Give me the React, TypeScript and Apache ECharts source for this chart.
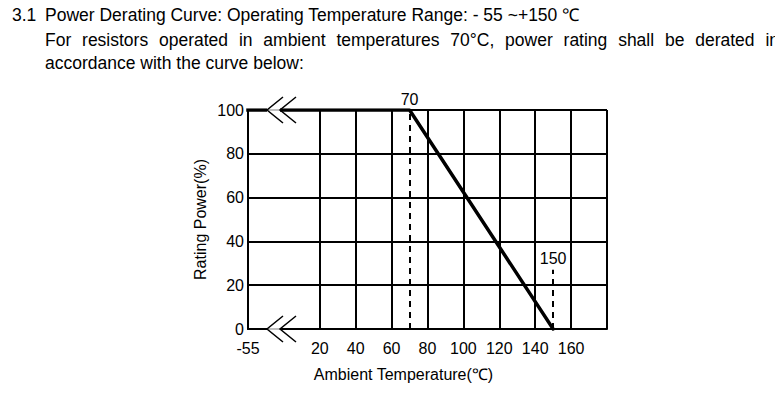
import React, { useEffect, useRef } from "react";
import * as echarts from "echarts";

const FONT = "'Liberation Sans', Arial, Helvetica, sans-serif";

// Curve data (temperature in °C, rated power in %)
const tempC = [-55, 70, 150];
const powerPct = [100, 100, 0];

// Broken x axis: the -55 point is drawn where -20 would be on a linear scale
const BREAK_ACTUAL = -55;
const BREAK_AXIS = -20;
const X_MIN = -20;
const X_MAX = 180;
const X_STEP = 20;
const xTickLabels = [20, 40, 60, 80, 100, 120, 140, 160];
const gridTemps = [20, 40, 60, 80, 100, 120, 140, 160, 180];

const Y_MIN = 0;
const Y_MAX = 100;
const Y_STEP = 20;

// Dashed guide lines
const guideTemps = [70, 150];
const guideTops = [100, 27];
const guideLabels = ["70", "150"];

// Header texts
const titleNum = "3.1";
const titleText = "Power Derating Curve: Operating Temperature Range: - 55 ~+150 ℃";
const line2Words = [
  "For", "resistors", "operated", "in", "ambient", "temperatures", "70°C,",
  "power", "rating", "shall", "be", "derated", "in",
];
const line3Text = "accordance with the curve below:";
const xName = "Ambient Temperature(℃)";
const yName = "Rating Power(%)";

const HEAD_SIZE = 17.5;

const toAxis = (t: number) => (t <= BREAK_ACTUAL ? BREAK_AXIS : t);

function measure(text: string, size: number): number {
  const c = document.createElement("canvas");
  const ctx = c.getContext("2d");
  if (!ctx) return text.length * size * 0.5;
  ctx.font = `${size}px ${FONT}`;
  return ctx.measureText(text).width;
}

export default function App() {
  const ref = useRef<HTMLDivElement>(null);

  useEffect(() => {
    if (!ref.current) return;
    const chart = echarts.init(ref.current, undefined, { renderer: "svg" });

    const gridLines = gridTemps.map((t) => [
      { coord: [t, Y_MIN] },
      { coord: [t, Y_MAX] },
    ]);
    const guideLines = guideTemps.map((t, i) => [
      {
        coord: [t, Y_MIN],
        lineStyle: { color: "#000", width: 2, type: [6, 5] },
        label: {
          show: true,
          position: "end",
          formatter: guideLabels[i],
          color: "#000",
          fontSize: 16,
          fontFamily: FONT,
          distance: 3,
        },
      },
      { coord: [t, guideTops[i]] },
    ]);

    const option: any = {
      animation: false,
      grid: { left: 248, right: 168, top: 110, bottom: 67 },
      xAxis: {
        type: "value",
        min: X_MIN,
        max: X_MAX,
        interval: X_STEP,
        name: xName,
        nameLocation: "middle",
        nameGap: 37,
        nameTextStyle: {
          color: "#000",
          fontSize: 16,
          fontFamily: FONT,
          padding: [0, 48, 0, 0],
        },
        axisLine: { show: true, onZero: false, lineStyle: { color: "#000", width: 2 } },
        axisTick: { show: false },
        splitLine: { show: false },
        axisLabel: {
          color: "#000",
          fontSize: 16,
          fontFamily: FONT,
          margin: 11,
          showMinLabel: true,
          showMaxLabel: true,
          formatter: (v: number) =>
            v === BREAK_AXIS
              ? String(BREAK_ACTUAL)
              : xTickLabels.indexOf(v) >= 0
              ? String(v)
              : "",
        },
      },
      yAxis: {
        type: "value",
        min: Y_MIN,
        max: Y_MAX,
        interval: Y_STEP,
        name: yName,
        nameLocation: "middle",
        nameGap: 40,
        nameTextStyle: { color: "#000", fontSize: 16, fontFamily: FONT },
        axisLine: { show: true, onZero: false, lineStyle: { color: "#000", width: 2 } },
        axisTick: { show: false },
        splitLine: { show: true, lineStyle: { color: "#000", width: 2 } },
        axisLabel: {
          color: "#000",
          fontSize: 16,
          fontFamily: FONT,
          margin: 4,
        },
      },
      series: [
        {
          type: "line",
          data: [],
          z: 1,
          silent: true,
          markLine: {
            silent: true,
            symbol: ["none", "none"],
            label: { show: false },
            lineStyle: { color: "#000", width: 2, type: "solid" },
            data: [...gridLines, ...guideLines],
          },
        },
        {
          type: "line",
          z: 5,
          silent: true,
          symbol: "none",
          data: tempC.map((t, i) => [toAxis(t), powerPct[i]]),
          lineStyle: { color: "#000", width: 3.5, cap: "square" },
        },
      ],
    };
    chart.setOption(option);

    // Axis-break chevrons
    const top = chart.convertToPixel({ gridIndex: 0 }, [BREAK_AXIS, Y_MAX]) as number[];
    const bot = chart.convertToPixel({ gridIndex: 0 }, [BREAK_AXIS, Y_MIN]) as number[];
    const breakMark = (p: number[]) => {
      const tip1 = p[0] + 19;
      const tip2 = p[0] + 32;
      const y = p[1];
      return [
        {
          type: "rect",
          z: 100,
          shape: { x: tip1, y: y - 2.5, width: tip2 - tip1, height: 5 },
          style: { fill: "#fff" },
        },
        {
          type: "line",
          z: 101,
          shape: { x1: tip1, y1: y, x2: tip2, y2: y },
          style: { stroke: "#aaa", lineWidth: 1.5 },
        },
        {
          type: "polyline",
          z: 102,
          shape: { points: [[tip1 + 16, y - 13], [tip1, y], [tip1 + 16, y + 13]] },
          style: { stroke: "#000", lineWidth: 1.5, fill: "none" },
        },
        {
          type: "polyline",
          z: 102,
          shape: { points: [[tip2 + 16, y - 13], [tip2, y], [tip2 + 16, y + 13]] },
          style: { stroke: "#000", lineWidth: 1.5, fill: "none" },
        },
      ];
    };

    // Justified second header line
    const left = 45;
    const right = 779;
    const widths = line2Words.map((w) => measure(w, HEAD_SIZE));
    const total = widths.reduce((a, b) => a + b, 0);
    const gap = (right - left - total) / (line2Words.length - 1);
    let cx = left;
    const wordEls = line2Words.map((w, i) => {
      const el = {
        type: "text",
        x: cx,
        y: 40,
        style: {
          text: w,
          fill: "#000",
          font: `${HEAD_SIZE}px ${FONT}`,
          verticalAlign: "middle",
          align: "left",
        },
      };
      cx += widths[i] + gap;
      return el;
    });

    const textStyle = (t: string) => ({
      text: t,
      fill: "#000",
      font: `${HEAD_SIZE}px ${FONT}`,
      verticalAlign: "middle",
      align: "left",
    });

    chart.setOption({
      graphic: [
        ...breakMark(top),
        ...breakMark(bot),
        { type: "text", x: 12, y: 15, style: textStyle(titleNum) },
        { type: "text", x: 45, y: 15, style: textStyle(titleText) },
        ...wordEls,
        { type: "text", x: 45, y: 63, style: textStyle(line3Text) },
      ],
    });

    return () => chart.dispose();
  }, []);

  return (
    <div
      ref={ref}
      style={{ position: "absolute", left: 0, top: 0, width: 775, height: 396, background: "#fff" }}
    />
  );
}
